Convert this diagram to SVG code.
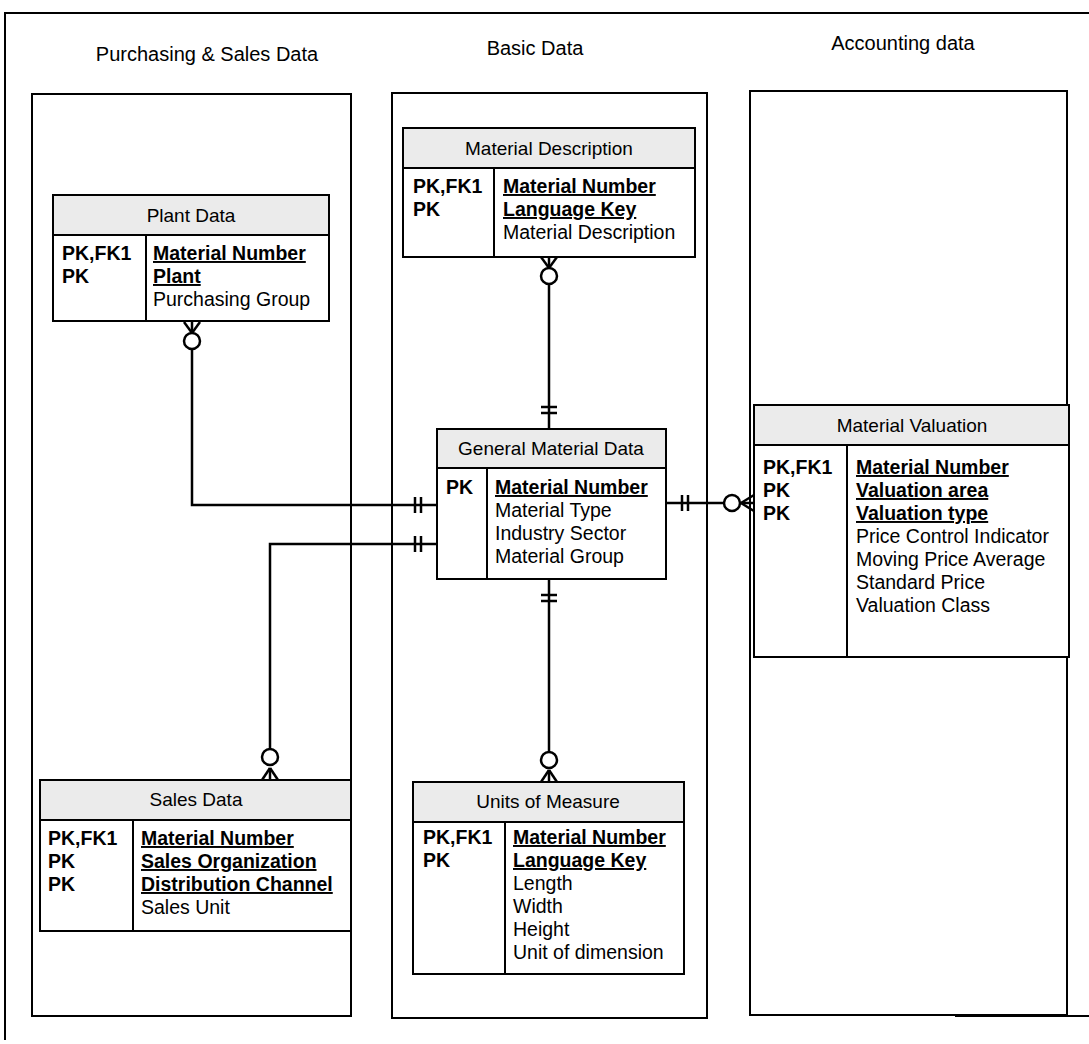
<svg xmlns="http://www.w3.org/2000/svg" width="1089" height="1044" viewBox="0 0 1089 1044">
  <style>
    .frame { fill: none; stroke: #000; stroke-width: 2; }
    .panel { fill: none; stroke: #000; stroke-width: 2; }
    .box { fill: #fff; stroke: #000; stroke-width: 2; }
    .head { fill: #ebebeb; stroke: #000; stroke-width: 2; }
    .div { stroke: #000; stroke-width: 2; }
    .title { font-family: "Liberation Sans", Arial, sans-serif; font-size: 20px; fill: #000; text-anchor: middle; }
    .hdr { font-family: "Liberation Sans", Arial, sans-serif; font-size: 19px; fill: #000; text-anchor: middle; }
    .key { font-family: "Liberation Sans", Arial, sans-serif; font-size: 19.5px; font-weight: bold; fill: #000; }
    .pk { font-family: "Liberation Sans", Arial, sans-serif; font-size: 19.5px; font-weight: bold; fill: #000; text-decoration: underline; }
    .fld { font-family: "Liberation Sans", Arial, sans-serif; font-size: 19.5px; fill: #000; }
    .ln { fill: none; stroke: #000; stroke-width: 2.5; }
    .ring { fill: #fff; stroke: #000; stroke-width: 2.5; }
  </style>

  <!-- page frame -->
  <g id="frame">
    <line class="frame" x1="4" y1="13" x2="1089" y2="13"/>
    <line class="frame" x1="5" y1="13" x2="5" y2="1040"/>
    <line class="frame" x1="955" y1="1016" x2="1089" y2="1016"/>
  </g>

  <!-- column panels and their titles -->
  <g id="panel-purchasing">
    <rect class="panel" x="32" y="94" width="319" height="922"/>
    <text class="title" x="207" y="61">Purchasing &amp; Sales Data</text>
  </g>
  <g id="panel-basic">
    <rect class="panel" x="392" y="93" width="315" height="925"/>
    <text class="title" x="535" y="55">Basic Data</text>
  </g>
  <g id="panel-accounting">
    <rect class="panel" x="750" y="91" width="317" height="924"/>
    <text class="title" x="903" y="50">Accounting data</text>
  </g>

  <!-- connectors -->
  <g id="connectors">
    <!-- Plant Data to General Material Data -->
    <polyline class="ln" points="192,349 192,505 437,505"/>
    <line class="ln" x1="192" y1="333" x2="184" y2="322"/>
    <line class="ln" x1="192" y1="333" x2="192" y2="322"/>
    <line class="ln" x1="192" y1="333" x2="200" y2="322"/>
    <circle class="ring" cx="192" cy="341" r="8"/>
    <line class="ln" x1="415" y1="497" x2="415" y2="513"/>
    <line class="ln" x1="421" y1="497" x2="421" y2="513"/>

    <!-- Sales Data to General Material Data -->
    <polyline class="ln" points="437,544 270,544 270,749"/>
    <line class="ln" x1="270" y1="768" x2="262" y2="780"/>
    <line class="ln" x1="270" y1="768" x2="270" y2="780"/>
    <line class="ln" x1="270" y1="768" x2="278" y2="780"/>
    <circle class="ring" cx="270" cy="757" r="8"/>
    <line class="ln" x1="415" y1="536" x2="415" y2="552"/>
    <line class="ln" x1="421" y1="536" x2="421" y2="552"/>

    <!-- Material Description to General Material Data -->
    <line class="ln" x1="549" y1="284" x2="549" y2="429"/>
    <line class="ln" x1="549" y1="268" x2="541" y2="257"/>
    <line class="ln" x1="549" y1="268" x2="549" y2="257"/>
    <line class="ln" x1="549" y1="268" x2="557" y2="257"/>
    <circle class="ring" cx="549" cy="276" r="8"/>
    <line class="ln" x1="541" y1="407" x2="557" y2="407"/>
    <line class="ln" x1="541" y1="413" x2="557" y2="413"/>

    <!-- General Material Data to Units of Measure -->
    <line class="ln" x1="549" y1="579" x2="549" y2="752"/>
    <line class="ln" x1="549" y1="770" x2="541" y2="782"/>
    <line class="ln" x1="549" y1="770" x2="549" y2="782"/>
    <line class="ln" x1="549" y1="770" x2="557" y2="782"/>
    <circle class="ring" cx="549" cy="760" r="8"/>
    <line class="ln" x1="541" y1="595" x2="557" y2="595"/>
    <line class="ln" x1="541" y1="601" x2="557" y2="601"/>

    <!-- General Material Data to Material Valuation -->
    <line class="ln" x1="666" y1="503" x2="724" y2="503"/>
    <line class="ln" x1="741" y1="503" x2="754" y2="495"/>
    <line class="ln" x1="741" y1="503" x2="754" y2="503"/>
    <line class="ln" x1="741" y1="503" x2="754" y2="511"/>
    <circle class="ring" cx="732" cy="503" r="8"/>
    <line class="ln" x1="682" y1="495" x2="682" y2="511"/>
    <line class="ln" x1="688" y1="495" x2="688" y2="511"/>
  </g>

  <!-- entity: Plant Data -->
  <g id="plant-data">
    <rect class="box" x="53" y="195" width="276" height="126"/>
    <rect class="head" x="53" y="195" width="276" height="40"/>
    <line class="div" x1="146" y1="235" x2="146" y2="321"/>
    <text class="hdr" x="191" y="222">Plant Data</text>
    <text class="key" x="62" y="260">PK,FK1</text>
    <text class="key" x="62" y="283">PK</text>
    <text class="pk" x="153" y="260">Material Number</text>
    <text class="pk" x="153" y="283">Plant</text>
    <text class="fld" x="153" y="306">Purchasing Group</text>
  </g>

  <!-- entity: Material Description -->
  <g id="material-description">
    <rect class="box" x="403" y="128" width="292" height="129"/>
    <rect class="head" x="403" y="128" width="292" height="40"/>
    <line class="div" x1="494" y1="168" x2="494" y2="257"/>
    <text class="hdr" x="549" y="155">Material Description</text>
    <text class="key" x="413" y="193">PK,FK1</text>
    <text class="key" x="413" y="216">PK</text>
    <text class="pk" x="503" y="193">Material Number</text>
    <text class="pk" x="503" y="216">Language Key</text>
    <text class="fld" x="503" y="239">Material Description</text>
  </g>

  <!-- entity: General Material Data -->
  <g id="general-material-data">
    <rect class="box" x="437" y="429" width="229" height="150"/>
    <rect class="head" x="437" y="429" width="229" height="39"/>
    <line class="div" x1="487" y1="468" x2="487" y2="579"/>
    <text class="hdr" x="551" y="455">General Material Data</text>
    <text class="key" x="446" y="494">PK</text>
    <text class="pk" x="495" y="494">Material Number</text>
    <text class="fld" x="495" y="517">Material Type</text>
    <text class="fld" x="495" y="540">Industry Sector</text>
    <text class="fld" x="495" y="563">Material Group</text>
  </g>

  <!-- entity: Material Valuation -->
  <g id="material-valuation">
    <rect class="box" x="754" y="405" width="315" height="252"/>
    <rect class="head" x="754" y="405" width="315" height="40"/>
    <line class="div" x1="847" y1="445" x2="847" y2="657"/>
    <text class="hdr" x="912" y="432">Material Valuation</text>
    <text class="key" x="763" y="474">PK,FK1</text>
    <text class="key" x="763" y="497">PK</text>
    <text class="key" x="763" y="520">PK</text>
    <text class="pk" x="856" y="474">Material Number</text>
    <text class="pk" x="856" y="497">Valuation area</text>
    <text class="pk" x="856" y="520">Valuation type</text>
    <text class="fld" x="856" y="543">Price Control Indicator</text>
    <text class="fld" x="856" y="566">Moving Price Average</text>
    <text class="fld" x="856" y="589">Standard Price</text>
    <text class="fld" x="856" y="612">Valuation Class</text>
  </g>

  <!-- entity: Sales Data -->
  <g id="sales-data">
    <rect class="box" x="40" y="780" width="311" height="151"/>
    <rect class="head" x="40" y="780" width="311" height="40"/>
    <line class="div" x1="133" y1="820" x2="133" y2="931"/>
    <text class="hdr" x="196" y="806">Sales Data</text>
    <text class="key" x="48" y="845">PK,FK1</text>
    <text class="key" x="48" y="868">PK</text>
    <text class="key" x="48" y="891">PK</text>
    <text class="pk" x="141" y="845">Material Number</text>
    <text class="pk" x="141" y="868">Sales Organization</text>
    <text class="pk" x="141" y="891">Distribution Channel</text>
    <text class="fld" x="141" y="914">Sales Unit</text>
  </g>

  <!-- entity: Units of Measure -->
  <g id="units-of-measure">
    <rect class="box" x="413" y="782" width="271" height="192"/>
    <rect class="head" x="413" y="782" width="271" height="40"/>
    <line class="div" x1="505" y1="822" x2="505" y2="974"/>
    <text class="hdr" x="548" y="808">Units of Measure</text>
    <text class="key" x="423" y="844">PK,FK1</text>
    <text class="key" x="423" y="867">PK</text>
    <text class="pk" x="513" y="844">Material Number</text>
    <text class="pk" x="513" y="867">Language Key</text>
    <text class="fld" x="513" y="890">Length</text>
    <text class="fld" x="513" y="913">Width</text>
    <text class="fld" x="513" y="936">Height</text>
    <text class="fld" x="513" y="959">Unit of dimension</text>
  </g>
</svg>
